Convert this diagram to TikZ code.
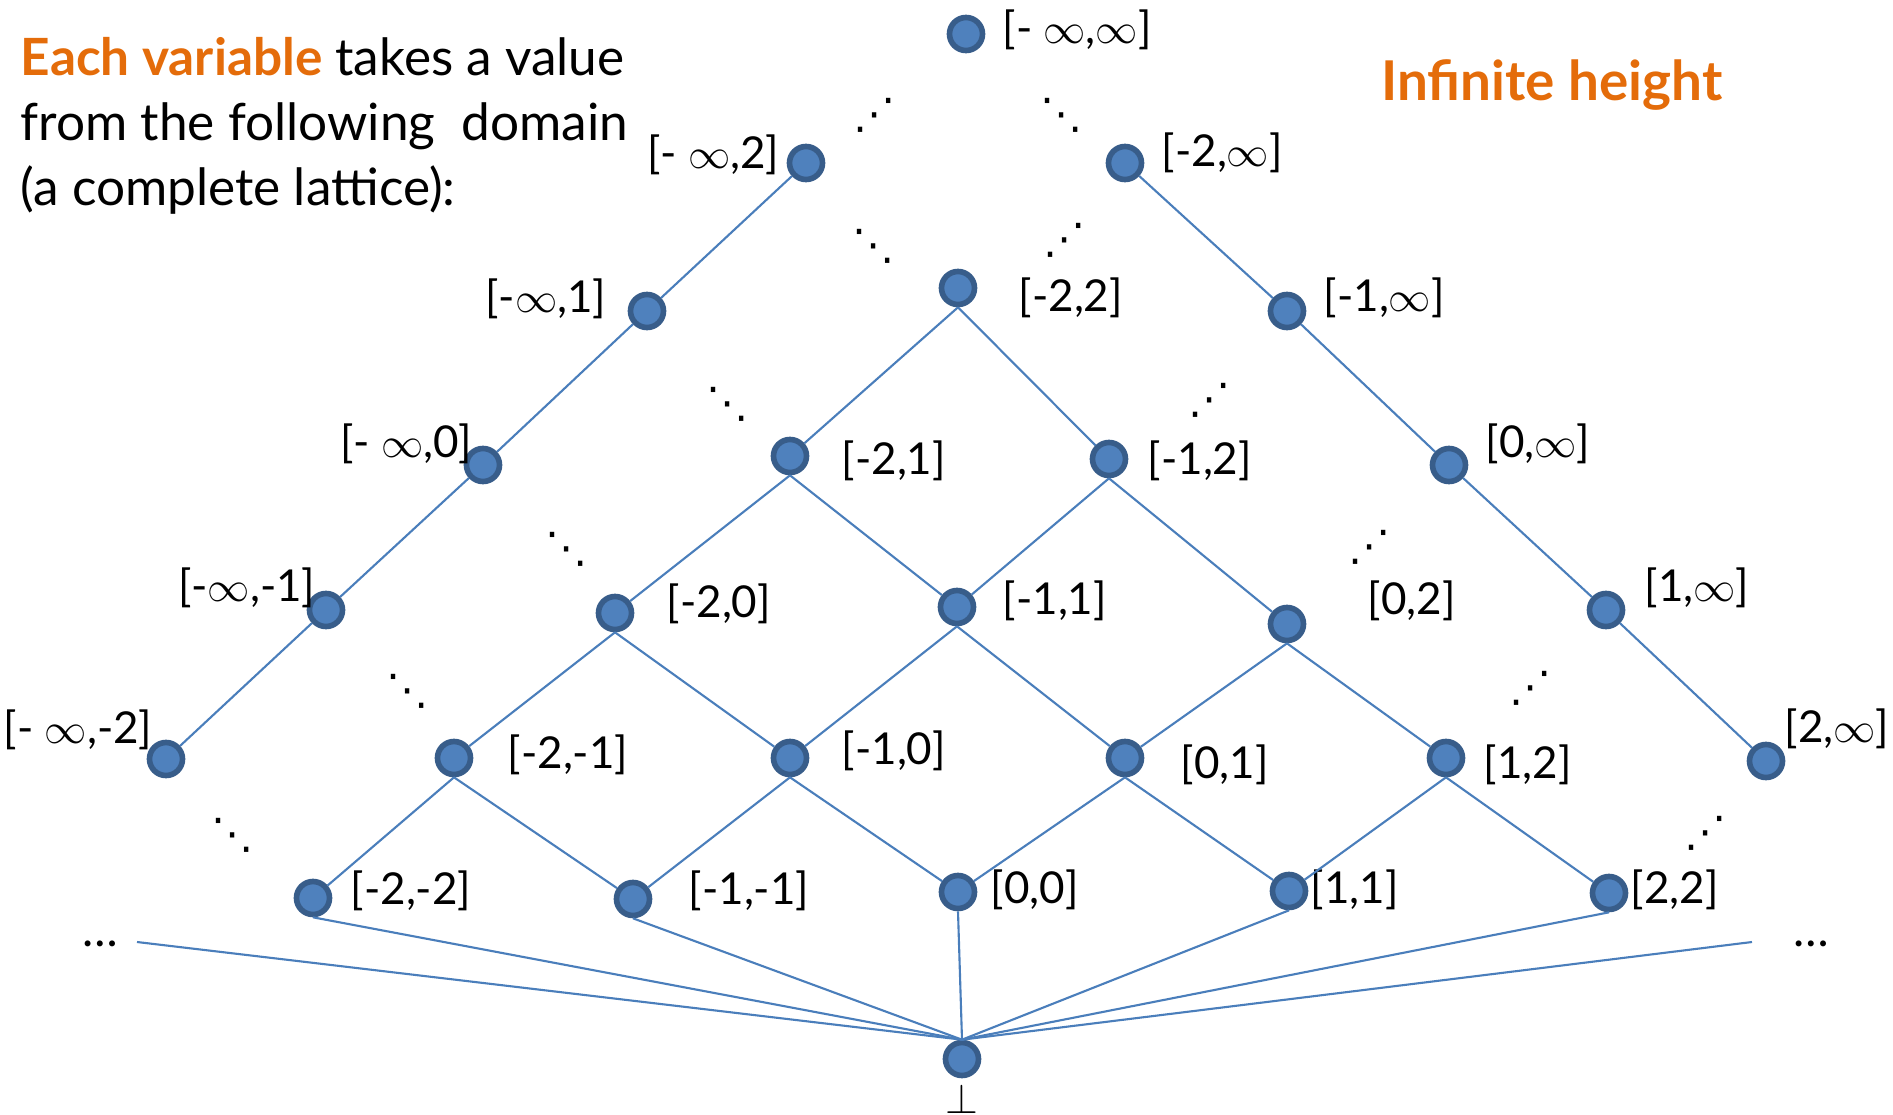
\documentclass[tikz,border=0pt]{standalone}
\usepackage{fontspec}
\setmainfont{Lato}
\newfontfamily\dotsfont{DejaVu Sans}
\usetikzlibrary{positioning}
\definecolor{nodeblue}{RGB}{79,129,189}
\definecolor{nodeedge}{RGB}{56,93,138}
\definecolor{linkblue}{RGB}{74,126,187}
\definecolor{accent}{RGB}{228,108,10}
\newcommand{\inft}{$\infty$}

\begin{document}
\begin{tikzpicture}[
  x=0.01cm, y=-0.01cm,
  elem/.style={circle, fill=nodeblue, draw=nodeedge, line width=1.6pt,
    minimum size=0.33cm, inner sep=0pt},
  link/.style={draw=linkblue, line width=0.6pt},
  lbl/.style={inner sep=0pt, font=\fontsize{12.5}{15}\selectfont},
  gap/.style={inner sep=0pt, font=\dotsfont\fontsize{12}{14}\selectfont},
  headline/.style={inner sep=0pt, align=left, font=\fontsize{14.6}{18.5}\selectfont}
]
\useasboundingbox (0,0) rectangle (1893,1115);

\node[headline, anchor=north west] (intro) at (20,37)
  {{\bfseries\color{accent}Each variable} takes a value\\from the following\ \ domain\\(a complete lattice):};
\node[headline, font=\fontsize{15.6}{18}\selectfont\bfseries, text=accent] (height) at (1552,85) {Infinite height};

\node[elem] (top) at (966,34) {};
\node[elem] (minf-p2) at (806,163) {};
\node[elem] (m2-inf) at (1125,163) {};
\node[elem] (minf-p1) at (647,311) {};
\node[elem] (m2-p2) at (958,288) {};
\node[elem] (m1-inf) at (1287,311) {};
\node[elem] (minf-p0) at (483,465) {};
\node[elem] (m2-p1) at (790,456) {};
\node[elem] (m1-p2) at (1109,459) {};
\node[elem] (p0-inf) at (1449,465) {};
\node[elem] (minf-m1) at (326,610) {};
\node[elem] (m2-p0) at (615,613) {};
\node[elem] (m1-p1) at (957,607) {};
\node[elem] (p0-p2) at (1287,624) {};
\node[elem] (p1-inf) at (1606,610) {};
\node[elem] (minf-m2) at (166,759) {};
\node[elem] (m2-m1) at (454,758) {};
\node[elem] (m1-p0) at (790,758) {};
\node[elem] (p0-p1) at (1125,758) {};
\node[elem] (p1-p2) at (1446,758) {};
\node[elem] (p2-inf) at (1766,761) {};
\node[elem] (m2-m2) at (313,898) {};
\node[elem] (m1-m1) at (633,899) {};
\node[elem] (p0-p0) at (958,892) {};
\node[elem] (p1-p1) at (1289,891) {};
\node[elem] (p2-p2) at (1609,893) {};
\node[elem] (bot) at (962,1059) {};

\node[lbl, anchor=west] (l-top) at (1002,30) {[- \inft,\inft]};
\node[lbl, anchor=east] (l-minf-p2) at (780,155) {[- \inft,2]};
\node[lbl, anchor=west] (l-m2-inf) at (1161,153) {[-2,\inft]};
\node[lbl, anchor=east] (l-minf-p1) at (607,299) {[-\inft,1]};
\node[lbl, anchor=west] (l-m2-p2) at (1018,298) {[-2,2]};
\node[lbl, anchor=west] (l-m1-inf) at (1323,298) {[-1,\inft]};
\node[lbl, anchor=east] (l-minf-p0) at (473,444) {[- \inft,0]};
\node[lbl, anchor=west] (l-m2-p1) at (841,461) {[-2,1]};
\node[lbl, anchor=west] (l-m1-p2) at (1147,461) {[-1,2]};
\node[lbl, anchor=west] (l-p0-inf) at (1485,444) {[0,\inft]};
\node[lbl, anchor=east] (l-minf-m1) at (316,588) {[-\inft,-1]};
\node[lbl, anchor=west] (l-m2-p0) at (666,604) {[-2,0]};
\node[lbl, anchor=west] (l-m1-p1) at (1002,601) {[-1,1]};
\node[lbl, anchor=west] (l-p0-p2) at (1367,601) {[0,2]};
\node[lbl, anchor=west] (l-p1-inf) at (1644,588) {[1,\inft]};
\node[lbl, anchor=east] (l-minf-m2) at (153,730) {[- \inft,-2]};
\node[lbl, anchor=west] (l-m2-m1) at (507,755) {[-2,-1]};
\node[lbl, anchor=west] (l-m1-p0) at (841,751) {[-1,0]};
\node[lbl, anchor=west] (l-p0-p1) at (1180,765) {[0,1]};
\node[lbl, anchor=west] (l-p1-p2) at (1483,765) {[1,2]};
\node[lbl, anchor=west] (l-p2-inf) at (1784,729) {[2,\inft]};
\node[lbl, anchor=west] (l-m2-m2) at (350,891) {[-2,-2]};
\node[lbl, anchor=west] (l-m1-m1) at (688,891) {[-1,-1]};
\node[lbl, anchor=west] (l-p0-p0) at (990,890) {[0,0]};
\node[lbl, anchor=west] (l-p1-p1) at (1310,890) {[1,1]};
\node[lbl, anchor=west] (l-p2-p2) at (1630,890) {[2,2]};
\node[lbl] (l-bot) at (962,1099) {$\bot$};

\node[gap] (gap1) at (875,115) {⋰};
\node[gap] (gap2) at (1062,115) {⋱};
\node[gap] (gap3) at (874,246) {⋱};
\node[gap] (gap4) at (1065,240) {⋰};
\node[gap] (gap5) at (728,404) {⋱};
\node[gap] (gap6) at (1210,400) {⋰};
\node[gap] (gap7) at (567,549) {⋱};
\node[gap] (gap8) at (1370,547) {⋰};
\node[gap] (gap9) at (408,691) {⋱};
\node[gap] (gap10) at (1531,688) {⋰};
\node[gap] (gap11) at (233,835) {⋱};
\node[gap] (gap12) at (1706,833) {⋰};
\node[lbl, font=\fontsize{13.5}{15}\selectfont] (moreL) at (100,944) {\ldots};
\node[lbl, font=\fontsize{13.5}{15}\selectfont] (moreR) at (1811,944) {\ldots};
\coordinate (lend) at (137,942);
\coordinate (rend) at (1752,942);

\draw[link] (minf-p2) -- (minf-p1) -- (minf-p0) -- (minf-m1) -- (minf-m2);
\draw[link] (m2-inf) -- (m1-inf) -- (p0-inf) -- (p1-inf) -- (p2-inf);
\draw[link] (m2-p2.south) -- (m2-p1);
\draw[link] (m2-p2.south) -- (m1-p2);
\draw[link] (m2-p1.south) -- (m2-p0);
\draw[link] (m2-p1.south) -- (m1-p1);
\draw[link] (m1-p2.south) -- (m1-p1);
\draw[link] (m1-p2.south) -- (p0-p2);
\draw[link] (m2-p0.south) -- (m2-m1);
\draw[link] (m2-p0.south) -- (m1-p0);
\draw[link] (m1-p1.south) -- (m1-p0);
\draw[link] (m1-p1.south) -- (p0-p1);
\draw[link] (p0-p2.south) -- (p0-p1);
\draw[link] (p0-p2.south) -- (p1-p2);
\draw[link] (m2-m1.south) -- (m2-m2);
\draw[link] (m2-m1.south) -- (m1-m1);
\draw[link] (m1-p0.south) -- (m1-m1);
\draw[link] (m1-p0.south) -- (p0-p0);
\draw[link] (p0-p1.south) -- (p0-p0);
\draw[link] (p0-p1.south) -- (p1-p1);
\draw[link] (p1-p2.south) -- (p1-p1);
\draw[link] (p1-p2.south) -- (p2-p2);
\draw[link] (lend) -- (bot.north);
\draw[link] (m2-m2.south) -- (bot.north);
\draw[link] (m1-m1.south) -- (bot.north);
\draw[link] (p0-p0.south) -- (bot.north);
\draw[link] (p1-p1.south) -- (bot.north);
\draw[link] (p2-p2.south) -- (bot.north);
\draw[link] (rend) -- (bot.north);

\end{tikzpicture}
\end{document}
